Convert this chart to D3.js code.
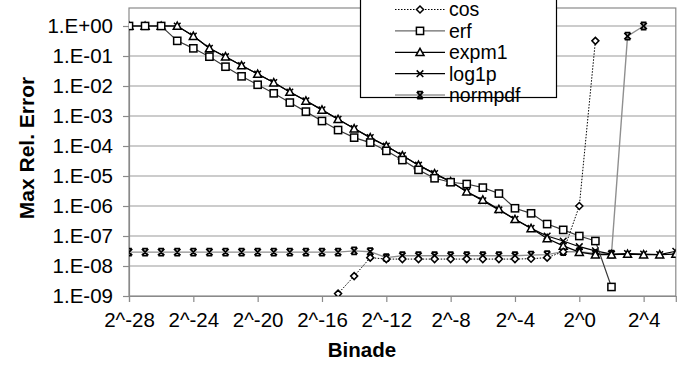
<!DOCTYPE html>
<html>
<head>
<meta charset="utf-8">
<script src="https://cdn.jsdelivr.net/npm/d3@7"></script>
<style>
  body { margin: 0; background: #fff; }
  text { font-family: "Liberation Sans", Arial, sans-serif; }
</style>
</head>
<body>
<div id="chart"></div>
<script>
const width = 694,
    height = 365;

// binade exponents (x = 2^b)
const xTickValues = [-28, -24, -20, -16, -12, -8, -4, 0, 4];
const yTickValues = [1e0, 1e-1, 1e-2, 1e-3, 1e-4, 1e-5, 1e-6, 1e-7, 1e-8, 1e-9];

// each series: values start at its first binade
const cosStart = -16;
const cosValues = [3.7e-10, 1.2e-9, 4.6e-9, 1.9e-8, 1.7e-8, 1.7e-8, 1.7e-8, 1.7e-8, 1.7e-8, 1.7e-8,
    1.7e-8, 1.7e-8, 1.7e-8, 1.75e-8, 1.9e-8, 3.0e-8, 1.0e-6, 3.2e-1];

const erfStart = -28;
const erfValues = [1, 1, 1, 3.2e-1, 1.8e-1, 9.5e-2, 4.4e-2, 2.1e-2, 1.1e-2, 5.7e-3,
    2.8e-3, 1.4e-3, 6.8e-4, 3.4e-4, 1.9e-4, 1.3e-4, 6.9e-5, 3.4e-5, 1.6e-5, 8.4e-6,
    6.2e-6, 5.4e-6, 4.1e-6, 2.6e-6, 8.4e-7, 5.7e-7, 2.5e-7, 1.6e-7, 1.0e-7, 6.8e-8, 2.0e-9];

const expm1Start = -28;
const expm1Values = [1, 1, 1, 1, 4.6e-1, 1.8e-1, 9.5e-2, 4.8e-2, 2.5e-2, 1.3e-2,
    6.3e-3, 3.2e-3, 1.6e-3, 7.8e-4, 3.8e-4, 1.9e-4, 1.0e-4, 4.8e-5, 2.3e-5, 1.2e-5,
    6.5e-6, 3.0e-6, 1.6e-6, 7.8e-7, 3.6e-7, 1.8e-7, 8.3e-8, 4.7e-8, 2.9e-8, 2.4e-8,
    2.4e-8, 2.5e-8, 2.4e-8, 2.4e-8, 2.5e-8];

const log1pStart = -28;
const log1pValues = [1, 1, 1, 1, 4.6e-1, 1.8e-1, 9.5e-2, 4.8e-2, 2.5e-2, 1.3e-2,
    6.3e-3, 3.2e-3, 1.6e-3, 7.8e-4, 3.8e-4, 1.9e-4, 1.0e-4, 4.8e-5, 2.3e-5, 1.2e-5,
    6.5e-6, 3.0e-6, 1.5e-6, 7.4e-7, 3.6e-7, 1.8e-7, 1.0e-7, 6.8e-8, 4.4e-8, 3.2e-8,
    2.5e-8, 2.6e-8, 2.5e-8, 2.4e-8, 3.1e-8];

const normpdfStart = -28;
const normpdfValues = [2.9e-8, 2.9e-8, 2.9e-8, 2.9e-8, 2.9e-8, 2.9e-8, 2.9e-8, 2.9e-8, 2.9e-8, 2.9e-8,
    2.9e-8, 2.9e-8, 2.9e-8, 2.9e-8, 3.2e-8, 3.0e-8, 1.9e-8, 2.2e-8, 2.2e-8, 2.2e-8,
    2.2e-8, 2.2e-8, 2.2e-8, 2.2e-8, 2.2e-8, 2.3e-8, 2.4e-8, 3.0e-8, 3.0e-8, 2.6e-8,
    2.5e-8, 4.6e-1, 1];

const plot = { left: 129, right: 675.8, top: 8, bottom: 296 };

const x = d3.scaleLinear().domain([-28, 6]).range([plot.left, plot.right]);
const y = d3.scaleLog().domain([1e-9, 1]).range([plot.bottom, 26]);

const svg = d3.select("#chart")
    .append("svg")
    .attr("width", width)
    .attr("height", height);

svg.append("defs").append("clipPath")
    .attr("id", "plotClip")
    .append("rect")
    .attr("x", plot.left).attr("y", plot.top)
    .attr("width", plot.right - plot.left)
    .attr("height", plot.bottom - plot.top);

// gridlines
svg.append("g")
    .selectAll("line")
    .data(yTickValues.slice(0, -1))
    .enter().append("line")
    .attr("x1", plot.left).attr("x2", plot.right)
    .attr("y1", d => y(d)).attr("y2", d => y(d))
    .attr("stroke", "#9a9a9a")
    .attr("stroke-width", 1.2);

// plot frame
svg.append("rect")
    .attr("x", plot.left).attr("y", plot.top)
    .attr("width", plot.right - plot.left)
    .attr("height", plot.bottom - plot.top)
    .attr("fill", "none")
    .attr("stroke", "#8a8a8a")
    .attr("stroke-width", 1.2);

// axes
const yAxis = d3.axisLeft(y)
    .tickValues(yTickValues)
    .tickSize(6)
    .tickPadding(10)
    .tickFormat(d => {
        const e = Math.round(Math.log10(d));
        return "1.E" + (e < 0 ? "-" : "+") + String(Math.abs(e)).padStart(2, "0");
    });

const xAxis = d3.axisBottom(x)
    .tickValues(xTickValues)
    .tickSize(6)
    .tickPadding(10)
    .tickFormat(d => "2^" + d);

function styleAxis(g) {
    g.select(".domain").attr("stroke", "#8a8a8a").attr("stroke-width", 1.2);
    g.selectAll(".tick line").attr("stroke", "#8a8a8a").attr("stroke-width", 1.2);
    g.selectAll(".tick text")
        .attr("fill", "#000")
        .style("font-size", "20.5px")
        .style("font-family", "'Liberation Sans', Arial, sans-serif");
}

svg.append("g")
    .attr("transform", `translate(${plot.left},0)`)
    .call(yAxis)
    .call(styleAxis);

svg.append("g")
    .attr("transform", `translate(0,${plot.bottom})`)
    .call(xAxis)
    .call(styleAxis);

// axis titles
svg.append("text")
    .attr("x", 362).attr("y", 357)
    .attr("text-anchor", "middle")
    .style("font-size", "20.5px")
    .style("font-weight", "bold")
    .text("Binade");

svg.append("text")
    .attr("transform", "translate(27,148) rotate(-90)")
    .attr("text-anchor", "middle")
    .attr("dy", "0.35em")
    .style("font-size", "21px")
    .style("font-weight", "bold")
    .text("Max Rel. Error");

// marker shapes
function drawMarker(g, type) {
    if (type === "cos") {
        g.append("path").attr("d", "M0,-3.5L3.5,0L0,3.5L-3.5,0Z")
            .attr("fill", "#fff").attr("stroke", "#000").attr("stroke-width", 1.5);
    } else if (type === "erf") {
        g.append("rect").attr("x", -3.6).attr("y", -3.6).attr("width", 7.2).attr("height", 7.2)
            .attr("fill", "#fff").attr("stroke", "#000").attr("stroke-width", 1.5);
    } else if (type === "expm1") {
        g.append("path").attr("d", "M0,-4L4,3.3L-4,3.3Z")
            .attr("fill", "#fff").attr("stroke", "#000").attr("stroke-width", 1.5);
    } else if (type === "log1p") {
        g.append("path").attr("d", "M-3.3,-3.3L3.3,3.3M-3.3,3.3L3.3,-3.3")
            .attr("stroke", "#000").attr("stroke-width", 1.5);
    } else {
        g.append("path").attr("d", "M-3.2,-3.2L3.2,3.2M-3.2,3.2L3.2,-3.2M-2.8,-3.5H2.8M-2.8,3.5H2.8")
            .attr("stroke", "#000").attr("stroke-width", 1.8);
    }
}

const seriesList = [
    { name: "cos", start: cosStart, values: cosValues, color: "#000", width: 1, dash: "1.5,1.5" },
    { name: "erf", start: erfStart, values: erfValues, color: "#3a3a3a", width: 1.2, dash: null },
    { name: "expm1", start: expm1Start, values: expm1Values, color: "#000", width: 1.2, dash: null },
    { name: "log1p", start: log1pStart, values: log1pValues, color: "#000", width: 1.2, dash: null },
    { name: "normpdf", start: normpdfStart, values: normpdfValues, color: "#8f8f8f", width: 1.4, dash: null }
];

const line = d3.line()
    .x(d => x(d.b))
    .y(d => y(d.v));

const plotG = svg.append("g").attr("clip-path", "url(#plotClip)");

// draw in reverse so cos ends up on top
seriesList.slice().reverse().forEach(s => {
    const pts = s.values.map((v, i) => ({ b: s.start + i, v: v }));
    plotG.append("path")
        .datum(pts)
        .attr("d", line)
        .attr("fill", "none")
        .attr("stroke", s.color)
        .attr("stroke-width", s.width)
        .attr("stroke-dasharray", s.dash);
    pts.forEach(p => {
        const g = plotG.append("g").attr("transform", `translate(${x(p.b)},${y(p.v)})`);
        drawMarker(g, s.name);
    });
});

// legend
const legend = svg.append("g");
legend.append("rect")
    .attr("x", 360.5).attr("y", -5)
    .attr("width", 196).attr("height", 102.5)
    .attr("fill", "#fff")
    .attr("stroke", "#000")
    .attr("stroke-width", 1.2);

const legendColors = { cos: "#000", erf: "#6a6a6a", expm1: "#000", log1p: "#000", normpdf: "#b0b0b0" };

seriesList.forEach((s, i) => {
    const ly = 9.5 + i * 21.4;
    legend.append("line")
        .attr("x1", 395).attr("x2", 445)
        .attr("y1", ly).attr("y2", ly)
        .attr("stroke", legendColors[s.name])
        .attr("stroke-width", s.name === "normpdf" ? 2 : 1.2)
        .attr("stroke-dasharray", s.dash);
    const g = legend.append("g").attr("transform", `translate(420,${ly})`);
    drawMarker(g, s.name);
    legend.append("text")
        .attr("x", 449).attr("y", ly)
        .attr("dy", "0.35em")
        .style("font-size", "19.5px")
        .text(s.name);
});
</script>
</body>
</html>
